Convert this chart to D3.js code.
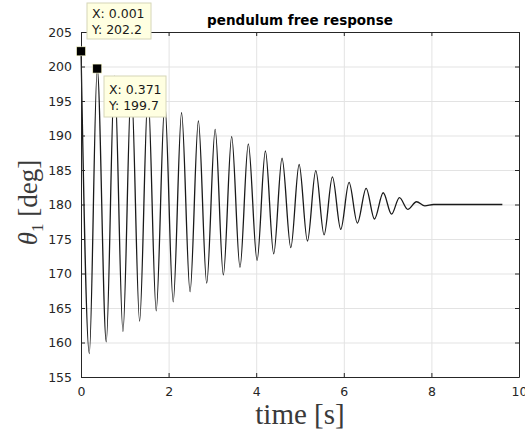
<!DOCTYPE html>
<html>
<head>
<meta charset="utf-8">
<script src="https://cdn.jsdelivr.net/npm/d3@7"></script>
<style>
  body { margin: 0; background: #fff; }
  svg { display: block; }
</style>
</head>
<body>
<div id="chart"></div>
<script>
// turning points of the response (time in s, angle in deg)
const extremaTime = [
  0.001, 0.19, 0.371, 0.577, 0.765, 0.958, 1.148, 1.338, 1.53, 1.717,
  1.913, 2.105, 2.296, 2.49, 2.68, 2.87, 3.063, 3.25, 3.44, 3.63,
  3.82, 4.02, 4.21, 4.40, 4.59, 4.79, 4.98, 5.17, 5.36, 5.55,
  5.74, 5.93, 6.12, 6.31, 6.51, 6.70, 6.90, 7.09, 7.27, 7.46,
  7.66, 7.85, 8.05, 9.62
];
const extremaAngle = [
  202.2, 158.4, 199.7, 160.1, 198.6, 161.6, 197.3, 163.1, 196.0, 164.6,
  194.7, 165.9, 193.3, 167.35, 192.1, 168.6, 190.9, 169.8, 189.85, 170.9,
  188.8, 171.9, 187.75, 172.85, 186.7, 173.75, 185.8, 174.7, 184.9, 175.6,
  184.0, 176.4, 183.2, 177.3, 182.35, 177.9, 181.7, 178.6, 181.0, 179.3,
  180.4, 179.8, 180.0, 180.0
];

const xTicks = [0, 2, 4, 6, 8, 10];
const yTicks = [155, 160, 165, 170, 175, 180, 185, 190, 195, 200, 205];

// data tips shown on the figure
const tipTime = [0.001, 0.371];
const tipAngle = [202.2, 199.7];

const width = 525, height = 436;
const margin = {left: 81, right: 6, top: 32, bottom: 59};
const innerW = width - margin.left - margin.right;
const innerH = height - margin.top - margin.bottom;
const axisColor = "#262626";

const svg = d3.select("#chart").append("svg")
    .attr("width", width)
    .attr("height", height)
    .style("background", "#fff");

const x = d3.scaleLinear().domain([0, 10]).range([0, innerW]);
const y = d3.scaleLinear().domain([155, 205]).range([innerH, 0]);

const g = svg.append("g").attr("transform", `translate(${margin.left},${margin.top})`);

// grid
g.append("g")
    .attr("transform", `translate(0,${innerH})`)
    .call(d3.axisBottom(x).tickValues(xTicks).tickSize(-innerH).tickFormat(""))
    .call(a => a.select(".domain").remove())
    .call(a => a.selectAll("line").attr("stroke", "#e3e3e3"));
g.append("g")
    .call(d3.axisLeft(y).tickValues(yTicks).tickSize(-innerW).tickFormat(""))
    .call(a => a.select(".domain").remove())
    .call(a => a.selectAll("line").attr("stroke", "#e3e3e3"));

// response curve
const points = extremaTime.map((t, i) => [t, extremaAngle[i]]);
g.append("path")
    .datum(points)
    .attr("fill", "none")
    .attr("stroke", "#1a1a1a")
    .attr("stroke-width", 1.3)
    .attr("d", d3.line().x(d => x(d[0])).y(d => y(d[1])).curve(d3.curveMonotoneX));

// axes box, ticks pointing inward
const font = "'DejaVu Sans', sans-serif";
const styleAxis = a => {
  a.select(".domain").attr("stroke", axisColor);
  a.selectAll("line").attr("stroke", axisColor);
  a.selectAll("text").attr("fill", axisColor).style("font-family", font).style("font-size", "12.5px");
};
g.append("g")
    .attr("transform", `translate(0,${innerH})`)
    .call(d3.axisBottom(x).tickValues(xTicks).tickSizeInner(-4).tickSizeOuter(0).tickPadding(10))
    .call(styleAxis);
g.append("g")
    .call(d3.axisLeft(y).tickValues(yTicks).tickSizeInner(-4).tickSizeOuter(0).tickPadding(9))
    .call(styleAxis);
g.append("g")
    .call(d3.axisTop(x).tickValues(xTicks).tickSizeInner(-4).tickSizeOuter(0).tickFormat(""))
    .call(styleAxis);
g.append("g")
    .attr("transform", `translate(${innerW},0)`)
    .call(d3.axisRight(y).tickValues(yTicks).tickSizeInner(-4).tickSizeOuter(0).tickFormat(""))
    .call(styleAxis);

// title
svg.append("text")
    .attr("x", margin.left + innerW / 2)
    .attr("y", 25)
    .attr("text-anchor", "middle")
    .style("font-family", font)
    .style("font-weight", "bold")
    .style("font-size", "13.5px")
    .attr("fill", "#000")
    .text("pendulum free response");

// axis labels (latex look)
const serif = "'Liberation Serif', 'DejaVu Serif', serif";
svg.append("text")
    .attr("x", margin.left + innerW / 2)
    .attr("y", 424)
    .attr("text-anchor", "middle")
    .style("font-family", serif)
    .style("font-size", "29px")
    .attr("fill", "#3a3a3a")
    .text("time [s]");

const yl = svg.append("text")
    .attr("transform", `translate(37,${margin.top + innerH / 2 - 2}) rotate(-90)`)
    .attr("text-anchor", "middle")
    .style("font-family", serif)
    .style("font-size", "27px")
    .attr("fill", "#3a3a3a");
yl.append("tspan").style("font-style", "italic").text("θ");
yl.append("tspan").attr("dy", 6).style("font-size", "17px").text("1");
yl.append("tspan").attr("dy", -6).text(" [deg]");

// data tips
const tipBoxes = [
  {bx: 87, by: 3, bw: 64, bh: 36},
  {bx: 104, by: 76, bw: 62, bh: 41}
];
tipTime.forEach((t, i) => {
  const b = tipBoxes[i];
  const tg = svg.append("g");
  tg.append("rect")
      .attr("x", b.bx).attr("y", b.by).attr("width", b.bw).attr("height", b.bh)
      .attr("fill", "#ffffe1").attr("stroke", "#d6d6b8").attr("stroke-width", 1);
  tg.append("text")
      .attr("x", b.bx + 5).attr("y", b.by + b.bh / 2 - 3)
      .style("font-family", font).style("font-size", "12.5px").attr("fill", "#1a1a1a")
      .text("X: " + d3.format(".3f")(t));
  tg.append("text")
      .attr("x", b.bx + 5).attr("y", b.by + b.bh / 2 + 13)
      .style("font-family", font).style("font-size", "12.5px").attr("fill", "#1a1a1a")
      .text("Y: " + d3.format(".1f")(tipAngle[i]));
  svg.append("rect")
      .attr("x", margin.left + x(t) - 4.5)
      .attr("y", margin.top + y(tipAngle[i]) - 4.5)
      .attr("width", 9).attr("height", 9)
      .attr("fill", "#000").attr("stroke", "#ffffcc").attr("stroke-width", 0.6);
});
</script>
</body>
</html>
